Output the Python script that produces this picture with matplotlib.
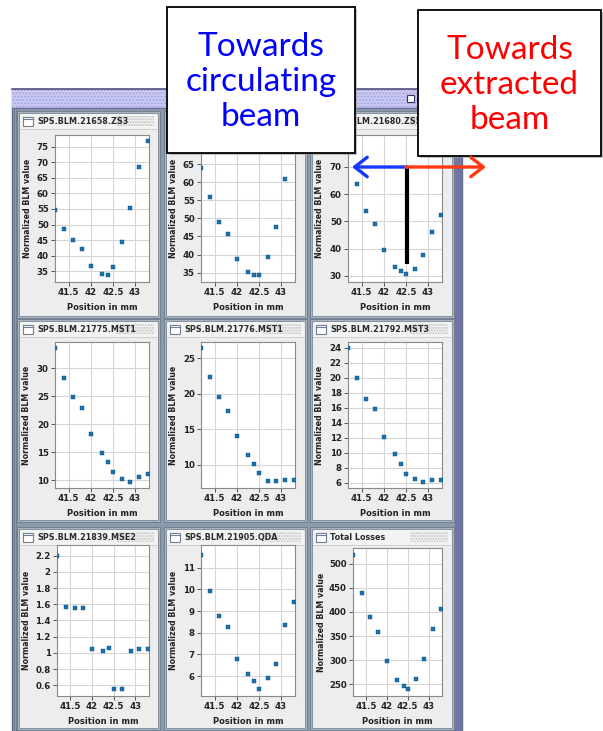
import matplotlib
matplotlib.use("Agg")
import matplotlib.pyplot as plt
from matplotlib.patches import Rectangle

plt.rcParams['font.family'] = ['DejaVu Sans']
plt.rcParams['font.weight'] = 'bold'

W, H = 603, 731

# Wire position (mm) of each scan step
pos_mm = [41.2, 41.4, 41.6, 41.8, 42.0, 42.25, 42.4, 42.5, 42.7, 42.9, 43.1, 43.3]

# second title is hidden behind the annotation box in the original
titles = ['SPS.BLM.21658.ZS3', '', 'SPS.BLM.21680.ZS5',
          'SPS.BLM.21775.MST1', 'SPS.BLM.21776.MST1', 'SPS.BLM.21792.MST3',
          'SPS.BLM.21839.MSE2', 'SPS.BLM.21905.QDA', 'Total Losses']

zs3 = [54.6, 48.5, 45.0, 42.2, 36.5, 34.1, 33.8, 36.2, 44.3, 55.3, 68.4, 76.8]
zs4 = [64.1, 55.9, 49.0, 45.6, 38.7, 35.2, 34.4, 34.2, 39.3, 47.7, 61.0, 71.0]
zs5 = [76.0, 63.5, 53.9, 49.0, 39.5, 33.4, 32.0, 30.7, 32.4, 37.8, 46.2, 52.5]
mst1a = [33.6, 28.2, 24.8, 22.8, 18.2, 14.8, 13.2, 11.4, 10.2, 9.7, 10.5, 11.0]
mst1b = [26.4, 22.4, 19.6, 17.6, 14.1, 11.3, 10.1, 8.8, 7.65, 7.65, 7.85, 7.85]
mst3 = [23.9, 20.0, 17.2, 15.8, 12.1, 9.8, 8.5, 7.2, 6.55, 6.15, 6.35, 6.35]
mse2 = [2.2, 1.57, 1.55, 1.56, 1.05, 1.02, 1.06, 0.56, 0.56, 1.02, 1.05, 1.05]
qda = [11.57, 9.91, 8.77, 8.28, 6.77, 6.09, 5.78, 5.42, 5.92, 6.57, 8.35, 9.42]
total = [518, 440, 389, 359, 298, 259, 247, 241, 262, 302, 364, 406]
series = [zs3, zs4, zs5, mst1a, mst1b, mst3, mse2, qda, total]

yticks = [[35, 40, 45, 50, 55, 60, 65, 70, 75],
          [35, 40, 45, 50, 55, 60, 65],
          [30, 40, 50, 60, 70],
          [10, 15, 20, 25, 30],
          [10, 15, 20, 25],
          [6, 8, 10, 12, 14, 16, 18, 20, 22, 24],
          [0.6, 0.8, 1.0, 1.2, 1.4, 1.6, 1.8, 2.0, 2.2],
          [6, 7, 8, 9, 10, 11],
          [250, 300, 350, 400, 450, 500]]
ylims = [(31.5, 78.8), (32.4, 73.1), (27.8, 81.6),
         (8.57, 34.7), (6.71, 27.3), (5.29, 24.76),
         (0.468, 2.332), (5.08, 12.05), (225.8, 532.5)]
xticks = [41.5, 42, 42.5, 43]
xticklabels = ['41.5', '42', '42.5', '43']

# layout in pixels
panel_x = [(19, 158), (166, 305), (312, 452)]
panel_y = [(113, 316), (321, 520), (529, 728)]
axes_px = [(55, 135, 149, 282), (201, 135, 295, 282), (348, 135, 442, 282),
           (55, 342, 149, 488), (201, 342, 295, 488), (348, 342, 442, 488),
           (57, 545, 149, 696), (201, 545, 295, 696), (353, 548, 442, 696)]
ylab_off = [27, 27, 28, 28, 28, 28, 30, 28, 32]


def frac(x0, y0, x1, y1):
    return [x0 / W, 1 - y1 / H, (x1 - x0) / W, (y1 - y0) / H]


fig = plt.figure(figsize=(W / 100, H / 100), dpi=100)
fig.patch.set_facecolor('white')

# background: the application window
bg = fig.add_axes([0, 0, 1, 1], zorder=0)
bg.set_xlim(0, W)
bg.set_ylim(H, 0)
bg.axis('off')
bg.add_patch(Rectangle((12, 89), 450, 650, facecolor='#8c9bac', edgecolor='#5f6d80', lw=1))
bg.add_patch(Rectangle((12, 89), 450, 19, facecolor='#cacaf3', edgecolor='#a5a5e0',
                       hatch='.....', lw=0))
bg.plot([12, 462], [89, 89], color='#55557f', lw=1.2)
bg.plot([12, 462], [108, 108], color='#6e6e9c', lw=1)
bg.add_patch(Rectangle((455, 108), 7, 640, facecolor='#7474a8', lw=0))
bg.add_patch(Rectangle((407, 95), 7, 7, facecolor='white', edgecolor='#333355', lw=0.8))
for x in (14, 16):
    bg.plot([x, x], [108, 731], color='#6b7a8c', lw=0.6)
for (px0, px1) in panel_x:
    for (py0, py1) in panel_y:
        bg.add_patch(Rectangle((px0 - 2, py0 - 2), px1 - px0 + 4, py1 - py0 + 4,
                               facecolor='#a9b4c0', edgecolor='#6b7a8c', lw=0.6))
        bg.add_patch(Rectangle((px0, py0), px1 - px0, py1 - py0,
                               facecolor='#ededed', edgecolor='#7b8899', lw=0.6))
        bg.add_patch(Rectangle((px0 + 1, py0 + 1), px1 - px0 - 2, 15,
                               facecolor='#f3f3f3', edgecolor='none'))
        bg.plot([px0 + 1, px1 - 1], [py0 + 16, py0 + 16], color='#c9c9c9', lw=0.6)
        bg.add_patch(Rectangle((px1 - 42, py0 + 3), 38, 10, facecolor='#f3f3f3',
                               edgecolor='#c0c0c0', hatch='......', lw=0))
        bg.add_patch(Rectangle((px0 + 4, py0 + 4), 10, 9, facecolor='white',
                               edgecolor='#6f7f90', lw=0.8))
        bg.plot([px0 + 4, px0 + 14], [py0 + 6, py0 + 6], color='#6f7f90', lw=0.8)

k = 0
for r in range(3):
    for c in range(3):
        px0, px1 = panel_x[c]
        py0 = panel_y[r][0]
        if titles[k]:
            bg.text(px0 + 18, py0 + 8.5, titles[k], fontsize=5.8, color='#2b2b2b',
                    ha='left', va='center')
        k += 1

# the nine BLM plots
for i in range(9):
    x0, y0, x1, y1 = axes_px[i]
    ax = fig.add_axes(frac(x0, y0, x1, y1), zorder=1)
    ax.set_facecolor('white')
    ax.scatter(pos_mm, series[i], marker='s', s=11, color='#1b72ad',
               edgecolors='#0e4f80', linewidths=0.3, zorder=3)
    ax.set_xlim(41.19, 43.32)
    ax.set_ylim(*ylims[i])
    ax.set_xticks(xticks)
    ax.set_xticklabels(xticklabels)
    ax.set_yticks(yticks[i])
    if i == 6:
        ax.set_yticklabels(['0.6', '0.8', '1', '1.2', '1.4', '1.6', '1.8', '2', '2.2'])
    ax.grid(True, color='#d6d6d6', lw=0.8)
    ax.set_axisbelow(True)
    ax.tick_params(direction='out', length=3, width=0.7, color='#555555',
                   labelsize=6.2, pad=1.5, labelcolor='#222222')
    for s in ax.spines.values():
        s.set_color('#8a8a8a')
        s.set_linewidth(0.8)
    wpx, hpx = x1 - x0, y1 - y0
    ax.text(-ylab_off[i] / wpx, 0.5, 'Normalized BLM value', transform=ax.transAxes,
            rotation=90, ha='center', va='center', fontsize=5.7, color='#222222')
    ax.text(0.5, -25 / hpx, 'Position in mm', transform=ax.transAxes,
            ha='center', va='center', fontsize=6, color='#222222')

# annotation overlay
ov = fig.add_axes([0, 0, 1, 1], zorder=5)
ov.set_xlim(0, W)
ov.set_ylim(H, 0)
ov.axis('off')
ov.patch.set_alpha(0)

for (bx, by, bw, bh, txt, col) in [(167, 7, 188, 146, 'Towards\ncirculating\nbeam', '#0000ff'),
                                    (418, 10, 183, 146, 'Towards\nextracted\nbeam', '#ff0000')]:
    ov.add_patch(Rectangle((bx + 2, by + 2), bw, bh, facecolor='#9a9a9a', lw=0, alpha=0.6))
    ov.add_patch(Rectangle((bx, by), bw, bh, facecolor='white', edgecolor='black', lw=1.3))
    ov.text(bx + bw / 2, by + bh / 2 + 2, txt, color=col, fontsize=24, fontweight='normal',
            family=['Lato', 'DejaVu Sans'], ha='center', va='center', linespacing=1.2)

ov.annotate('', xy=(352, 167), xytext=(408, 167),
            arrowprops=dict(arrowstyle='->,head_length=0.45,head_width=0.35',
                            color='#1438ff', lw=2.4, mutation_scale=20,
                            shrinkA=0, shrinkB=0))
ov.annotate('', xy=(486, 167), xytext=(406, 167),
            arrowprops=dict(arrowstyle='->,head_length=0.45,head_width=0.35',
                            color='#ff3a12', lw=2.4, mutation_scale=20,
                            shrinkA=0, shrinkB=0))
ov.plot([407, 407], [167, 264], color='black', lw=3, solid_capstyle='butt')

fig.savefig('out.png', dpi=100)
